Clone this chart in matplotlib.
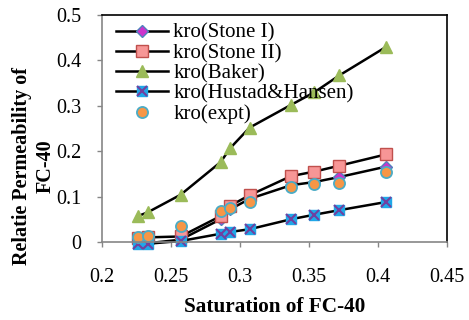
import matplotlib
matplotlib.use('Agg')
import matplotlib.pyplot as plt

# saturation of FC-40
sat = [0.226, 0.233, 0.257, 0.286, 0.293, 0.307, 0.337, 0.354, 0.372, 0.406]

# relative permeability estimates
kro_stone1 = [-0.002, -0.003, 0.005, 0.050, 0.072, 0.095, 0.125, 0.132, 0.143, 0.166]
kro_stone2 = [0.008, 0.010, 0.012, 0.057, 0.080, 0.103, 0.145, 0.155, 0.168, 0.193]
kro_baker = [0.057, 0.065, 0.104, 0.176, 0.207, 0.252, 0.302, 0.330, 0.367, 0.430]
kro_hustad = [-0.005, -0.004, 0.002, 0.018, 0.022, 0.028, 0.050, 0.060, 0.070, 0.088]
kro_expt = [0.010, 0.014, 0.036, 0.068, 0.075, 0.087, 0.122, 0.128, 0.129, 0.154]

plt.rcParams['font.family'] = ['Liberation Serif', 'DejaVu Serif']

fig = plt.figure(figsize=(4.69, 3.2), dpi=100)
ax = fig.add_axes([0.2175, 0.244, 0.7355, 0.709])

ax.plot(sat, kro_stone1, '-', color='black', lw=1.8, marker='D', ms=6,
        mfc='#CC33CC', mec='#4F81BD', mew=1.0, label='kro(Stone I)', clip_on=False)
ax.plot(sat, kro_stone2, '-', color='black', lw=1.8, marker='s', ms=8,
        mfc='#F79696', mec='#C0504D', mew=1.0, label='kro(Stone II)', clip_on=False)
ax.plot(sat, kro_baker, '-', color='black', lw=1.8, marker='^', ms=9,
        mfc='#9BBB59', mec='#9BBB59', label='kro(Baker)', clip_on=False)
hl, = ax.plot(sat, kro_hustad, '-', color='black', lw=1.8, marker='s', ms=7,
              mfc='#1FA8E8', mec='#1FA8E8', clip_on=False)
hx, = ax.plot(sat, kro_hustad, 'none', marker='x', ms=7, mec='#7040A0',
              mew=1.5, clip_on=False)
ax.plot(sat, kro_expt, 'none', marker='o', ms=8, mfc='#F79646',
        mec='#4BACC6', mew=1.3, label='kro(expt)', clip_on=False)

handles, labels = ax.get_legend_handles_labels()
handles.insert(3, (hl, hx))
labels.insert(3, 'kro(Hustad&Hansen)')
ax.legend(handles, labels, loc='upper left', bbox_to_anchor=(0.029, 0.982),
          frameon=False, fontsize=15, handlelength=2.5, labelspacing=0.03,
          handletextpad=0.25, borderpad=0.2, borderaxespad=0.0)

ax.set_xlim(0.2, 0.45)
ax.set_ylim(0, 0.5)
ax.set_xticks([0.2, 0.25, 0.3, 0.35, 0.4, 0.45])
ax.set_xticklabels(['0.2', '0.25', '0.3', '0.35', '0.4', '0.45'])
ax.set_yticks([0, 0.1, 0.2, 0.3, 0.4, 0.5])
ax.set_yticklabels(['0', '0.1', '0.2', '0.3', '0.4', '0.5'])
ax.tick_params(direction='out', length=3.6, width=1, color='#868686',
               labelsize=14.5)
ax.tick_params(axis='x', pad=15)
ax.tick_params(axis='y', pad=11)

for s in ['top', 'right']:
    ax.spines[s].set_color('black')
    ax.spines[s].set_linewidth(1.2)
for s in ['left', 'bottom']:
    ax.spines[s].set_color('#868686')
    ax.spines[s].set_linewidth(1.2)

fig.text(0.586, 1 - 307 / 320, 'Saturation of FC-40', fontsize=15.3,
         fontweight='bold', ha='center', va='center')
fig.text(33.5 / 469, 1 - 166 / 320, 'Relatie Permeability of\nFC-40',
         fontsize=14.5, fontweight='bold', rotation=90, ha='center',
         va='center', linespacing=1.25)

fig.savefig('out.png', dpi=100)
